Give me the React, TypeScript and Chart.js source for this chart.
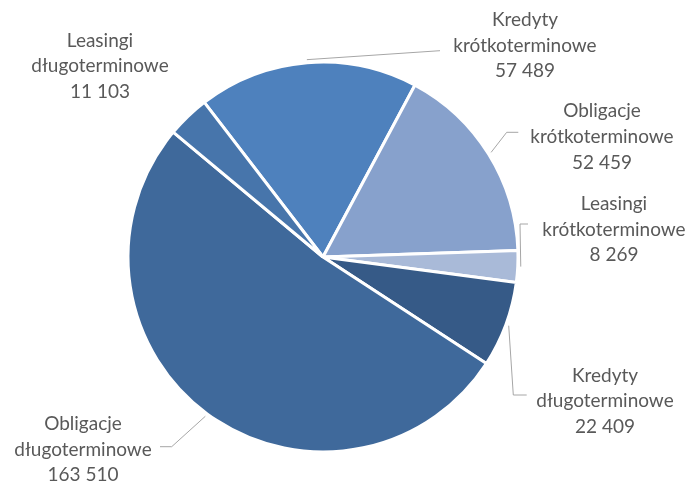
import React, { useEffect, useRef } from "react";
import { Chart, registerables } from "chart.js";

Chart.register(...registerables);

const categories: string[][] = [
  ["Kredyty", "krótkoterminowe"],
  ["Obligacje", "krótkoterminowe"],
  ["Leasingi", "krótkoterminowe"],
  ["Kredyty", "długoterminowe"],
  ["Obligacje", "długoterminowe"],
  ["Leasingi", "długoterminowe"],
];
const values: number[] = [57489, 52459, 8269, 22409, 163510, 11103];
const valueLabels: string[] = ["57 489", "52 459", "8 269", "22 409", "163 510", "11 103"];
const colors: string[] = ["#4E81BD", "#87A1CC", "#A9BAD8", "#365A87", "#3F699B", "#4775AB"];

// label layout relative to the pie centre: text centre x, first baseline y, leader bend points
const labelLayout: { dx: number; dy: number; path: number[][] | null }[] = [
  { dx: 202, dy: -231, path: [[117, -206.3]] },
  { dx: 279, dy: -139.7, path: [[183.7, -124.7], [195.3, -124.7]] },
  { dx: 291, dy: -47, path: [[197, -33], [205, -33]] },
  { dx: 282, dy: 124.7, path: [[190.3, 138], [203.7, 138]] },
  { dx: -240, dy: 173, path: [[-151.3, 189.7], [-163, 189.7]] },
  { dx: -223, dy: -210.3, path: null },
];

const labelPlugin = {
  id: "outLabels",
  afterDatasetsDraw(chart: any) {
    const ctx = chart.ctx;
    const meta = chart.getDatasetMeta(0);
    ctx.save();
    meta.data.forEach((arc: any, i: number) => {
      const p = arc.getProps(["x", "y", "startAngle", "endAngle", "outerRadius"], true);
      const mid = (p.startAngle + p.endAngle) / 2;
      const lay = labelLayout[i];
      if (lay.path) {
        const r = p.outerRadius + 3;
        ctx.beginPath();
        ctx.moveTo(p.x + Math.cos(mid) * r, p.y + Math.sin(mid) * r);
        lay.path.forEach((pt) => ctx.lineTo(p.x + pt[0], p.y + pt[1]));
        ctx.strokeStyle = "#A6A6A6";
        ctx.lineWidth = 1;
        ctx.stroke();
      }
      ctx.fillStyle = "#595959";
      ctx.font = "19px Lato";
      ctx.textAlign = "center";
      ctx.textBaseline = "alphabetic";
      const lines = [...categories[i], valueLabels[i]];
      lines.forEach((t, k) => {
        ctx.fillText(t, p.x + lay.dx, p.y + lay.dy + k * 25.7);
      });
    });
    ctx.restore();
  },
};

export default function App() {
  const ref = useRef<HTMLCanvasElement>(null);
  useEffect(() => {
    document.body.style.margin = "0";
    const chart = new Chart(ref.current!, {
      type: "pie",
      data: {
        labels: categories.map((c) => c.join(" ")),
        datasets: [
          {
            data: values,
            backgroundColor: colors,
            borderColor: "#FFFFFF",
            borderWidth: 3,
          },
        ],
      },
      options: {
        animation: false,
        responsive: false,
        rotation: -37.5,
        radius: 195,
        layout: { padding: { left: 0, right: 46, top: 28, bottom: 0 } },
        plugins: { legend: { display: false }, tooltip: { enabled: false } },
      },
      plugins: [labelPlugin],
    });
    return () => chart.destroy();
  }, []);
  return (
    <div style={{ width: 692, height: 486 }}>
      <canvas ref={ref} width={692} height={486} style={{ width: 692, height: 486 }} />
    </div>
  );
}
